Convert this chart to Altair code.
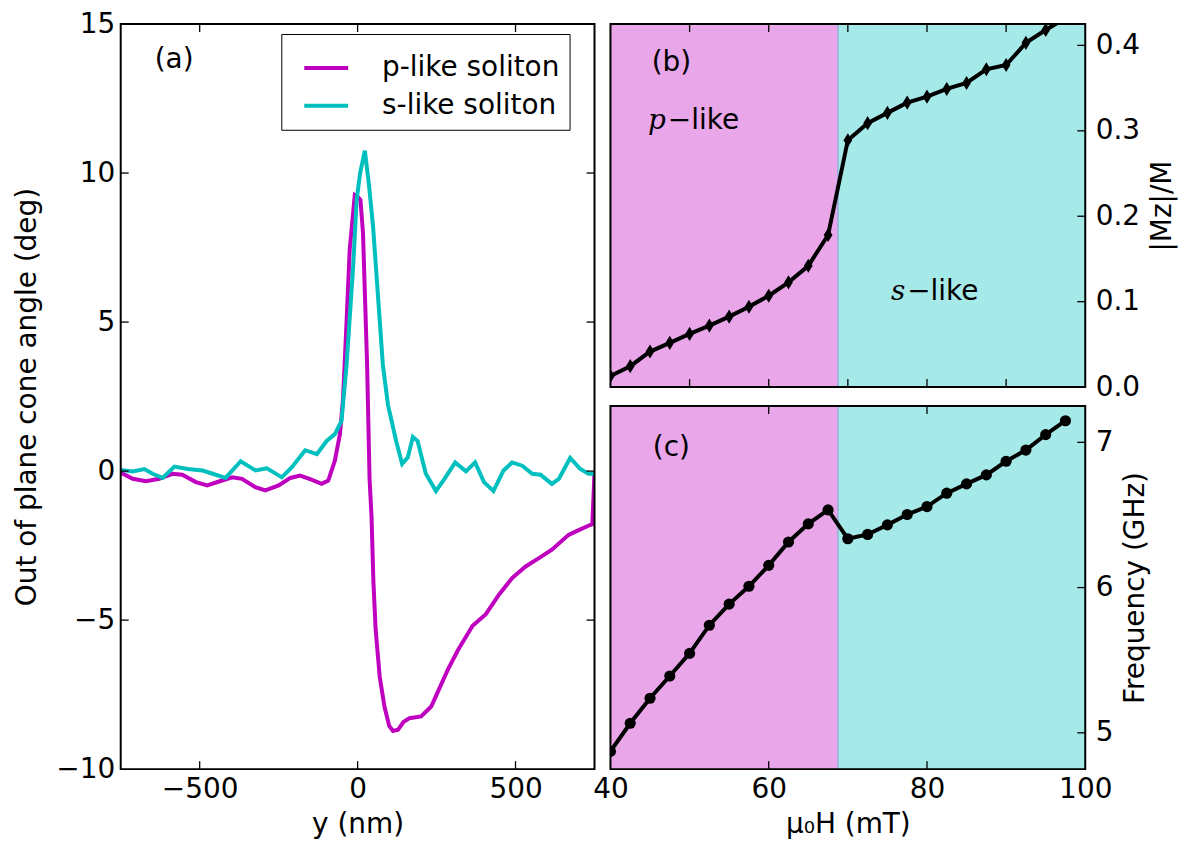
import altair as alt
import pandas as pd

# ---------------- Panel (a): out-of-plane cone angle profiles ----------------
p_y = [-750, -712, -670, -628, -586, -555, -512, -476, -439, -397,
       -366, -324, -292, -250, -213, -182, -146, -114, -93, -72,
       -56, -46, -35, -25, -9, 0, 9, 17, 30, 38,
       44, 50, 57, 70, 85, 100, 112, 128, 145, 164,
       201, 233, 259, 285, 317, 364, 406, 448, 490, 532,
       574, 615, 668, 700, 736, 743, 750]
p_angle = [-0.05, -0.26, -0.34, -0.26, -0.09, -0.12, -0.37, -0.48, -0.35, -0.21,
           -0.26, -0.54, -0.65, -0.48, -0.23, -0.15, -0.29, -0.43, -0.32, 0.35,
           1.24, 2.45, 5.0, 7.43, 9.26, 9.2, 9.1, 8.0, 3.6, -0.3,
           -1.5, -3.7, -5.3, -6.9, -7.9, -8.55, -8.72, -8.68, -8.42, -8.29,
           -8.23, -7.9, -7.29, -6.68, -6.02, -5.19, -4.8, -4.14, -3.58, -3.2,
           -2.92, -2.64, -2.14, -1.98, -1.81, -1.78, -0.05]

s_y = [-750, -712, -675, -649, -617, -580, -538, -491, -459, -418,
       -370, -323, -287, -240, -208, -166, -129, -98, -72, -51,
       -35, -14, -3, 8, 23, 36, 49, 65, 80, 96,
       122, 141, 159, 175, 190, 216, 248, 275, 309, 343,
       372, 400, 430, 462, 489, 521, 553, 579, 615, 637,
       673, 705, 731, 750]
s_angle = [0.04, -0.01, 0.07, -0.09, -0.23, 0.15, 0.07, 0.02, -0.09, -0.23,
           0.33, 0.02, 0.09, -0.21, 0.13, 0.70, 0.57, 1.01, 1.24, 1.68,
           3.56, 6.88, 9.1, 10.0, 10.75, 9.6, 8.2, 5.8, 3.56, 2.23,
           1.01, 0.24, 0.46, 1.15, 1.01, -0.09, -0.67, -0.26, 0.29, -0.01,
           0.29, -0.37, -0.67, 0.02, 0.29, 0.18, -0.09, -0.12, -0.43, -0.26,
           0.44, 0.07, -0.09, -0.09]

series_names = ["p-like soliton", "s-like soliton"]

# ---------------- Panels (b), (c): field sweep ----------------
field_mT = [40, 42.5, 45, 47.5, 50, 52.5, 55, 57.5, 60, 62.5, 65, 67.5,
            70, 72.5, 75, 77.5, 80, 82.5, 85, 87.5, 90, 92.5, 95, 97.5]
mz_ratio = [0.013, 0.0245, 0.0416, 0.0518, 0.0623, 0.072, 0.0825, 0.094,
            0.107, 0.1226, 0.142, 0.178, 0.289, 0.309, 0.321, 0.333,
            0.340, 0.349, 0.356, 0.372, 0.377, 0.403, 0.418, 0.432]
freq_GHz = [4.872, 5.066, 5.238, 5.391, 5.547, 5.741, 5.886, 6.009,
            6.153, 6.314, 6.439, 6.535, 6.336, 6.366, 6.432, 6.503,
            6.558, 6.650, 6.714, 6.776, 6.870, 6.947, 7.053, 7.149]
boundary_mT = 68.75

# axis labels and tick positions
a_xlabels = [-500, 0, 500]
a_ylabels = [-10, -5, 0, 5, 10, 15]
a_xticks = [-500, 0, 500]
a_yticks = [-5, 0, 5, 10]
b_ylabels = [0.0, 0.1, 0.2, 0.3, 0.4]
b_xticks = [50, 60, 70, 80, 90]
b_yticks = [0.1, 0.2, 0.3, 0.4]
c_xlabels = [40, 60, 80, 100]
c_ylabels = [5, 6, 7]
c_xticks = [60, 80]
c_yticks = [5, 6, 7]

# ---------------- styling ----------------
FONT = "DejaVu Sans"
FS = 28
MAG = "#BF00BF"
CYA = "#00BFBF"
SHADE_P = "#E9A6E9"
SHADE_S = "#A6E9E9"
TL = 8  # inward tick length

W_A, H_A = 475, 747
W_R, H_R = 476, 364

# scales
xa = alt.Scale(domain=[-750, 750], nice=False)
ya = alt.Scale(domain=[-10, 15], nice=False)
xs = alt.Scale(domain=[40, 100], nice=False)
yb = alt.Scale(domain=[0, 0.425], nice=False)
yc = alt.Scale(domain=[4.75, 7.25], nice=False)

# axes (the same axis object is given to every layer that uses a scale)
ax_a_x = alt.Axis(values=a_xlabels, title="y (nm)", labelPadding=6, titlePadding=8)
ax_a_y = alt.Axis(values=a_ylabels, title="Out of plane cone angle (deg)",
                  labelPadding=6, titlePadding=14)
ax_b_x = None
ax_b_y = alt.Axis(orient="right", values=b_ylabels, format=".1f", title="|Mz|/M",
                  titleAngle=270, titleBaseline="top", labelPadding=10, titlePadding=9)
ax_c_x = alt.Axis(values=c_xlabels, title="\u03bc\u2080H (mT)", labelPadding=6,
                  titlePadding=8)
ax_c_y = alt.Axis(orient="right", values=c_ylabels, format="d", title="Frequency (GHz)",
                  titleAngle=270, titleBaseline="top", labelPadding=10, titlePadding=9)


def frame(W, H):
    return alt.Chart(pd.DataFrame({"k": [0]})).mark_rect(
        filled=False, stroke="black", strokeWidth=2
    ).encode(x=alt.value(0), x2=alt.value(W), y=alt.value(0), y2=alt.value(H))


def xtick_layers(vals, scale, axis, H):
    d = pd.DataFrame({"t": vals})
    base = alt.Chart(d).mark_rule(color="black", strokeWidth=1.3)
    bot = base.encode(x=alt.X("t:Q", scale=scale, axis=axis),
                      y=alt.value(H), y2=alt.value(H - TL))
    top = base.encode(x=alt.X("t:Q", scale=scale, axis=axis),
                      y=alt.value(0), y2=alt.value(TL))
    return [bot, top]


def ytick_layers(vals, scale, axis, W, left=True, right=True):
    d = pd.DataFrame({"t": vals})
    base = alt.Chart(d).mark_rule(color="black", strokeWidth=1.3)
    out = []
    if left:
        out.append(base.encode(y=alt.Y("t:Q", scale=scale, axis=axis),
                               x=alt.value(0), x2=alt.value(TL)))
    if right:
        out.append(base.encode(y=alt.Y("t:Q", scale=scale, axis=axis),
                               x=alt.value(W), x2=alt.value(W - TL)))
    return out


def label(text, x, y, xscale, yscale, xaxis, yaxis, **kw):
    d = pd.DataFrame({"x": [x], "y": [y], "s": [text]})
    opts = dict(fontSize=FS, font=FONT, color="black", baseline="middle", align="center")
    opts.update(kw)
    return alt.Chart(d).mark_text(**opts).encode(
        x=alt.X("x:Q", scale=xscale, axis=xaxis),
        y=alt.Y("y:Q", scale=yscale, axis=yaxis),
        text="s:N",
    )


# ---------------- Panel (a) ----------------
df_a = pd.concat([
    pd.DataFrame({"y_nm": p_y, "angle": p_angle, "series": series_names[0]}),
    pd.DataFrame({"y_nm": s_y, "angle": s_angle, "series": series_names[1]}),
])

lines_a = alt.Chart(df_a).mark_line(strokeWidth=4, clip=True).encode(
    x=alt.X("y_nm:Q", scale=xa, axis=ax_a_x),
    y=alt.Y("angle:Q", scale=ya, axis=ax_a_y),
    color=alt.Color("series:N",
                    scale=alt.Scale(domain=series_names, range=[MAG, CYA]),
                    legend=alt.Legend(title=None, orient="none", legendX=161, legendY=10,
                                      direction="vertical", symbolType="stroke",
                                      symbolSize=1936, symbolStrokeWidth=4,
                                      labelFontSize=FS, labelFont=FONT, labelColor="black",
                                      labelOffset=32, padding=10, symbolOffset=11,
                                      rowPadding=0, strokeColor="black",
                                      fillColor="white", cornerRadius=0, labelLimit=500)),
)

panel_a = alt.layer(
    lines_a,
    label("(a)", -581, 13.8, xa, ya, ax_a_x, ax_a_y),
    *xtick_layers(a_xticks, xa, ax_a_x, H_A),
    *ytick_layers(a_yticks, ya, ax_a_y, W_A),
    frame(W_A, H_A),
).properties(width=W_A, height=H_A)

# ---------------- Panel (b) ----------------
df_bc = pd.DataFrame({"H": field_mT, "mz": mz_ratio, "f": freq_GHz})

reg_p = pd.DataFrame({"x0": [40], "x1": [boundary_mT]})
reg_s = pd.DataFrame({"x0": [boundary_mT], "x1": [100]})
reg_b = pd.DataFrame({"x0": [boundary_mT]})


def shading(H, xaxis):
    sp = alt.Chart(reg_p).mark_rect(color=SHADE_P).encode(
        x=alt.X("x0:Q", scale=xs, axis=xaxis), x2="x1:Q",
        y=alt.value(0), y2=alt.value(H))
    ss = alt.Chart(reg_s).mark_rect(color=SHADE_S).encode(
        x=alt.X("x0:Q", scale=xs, axis=xaxis), x2="x1:Q",
        y=alt.value(0), y2=alt.value(H))
    bl = alt.Chart(reg_b).mark_rule(color="#8FB0DA", strokeWidth=1.5).encode(
        x=alt.X("x0:Q", scale=xs, axis=xaxis), y=alt.value(0), y2=alt.value(H))
    return [sp, ss, bl]


DIAMOND = "M0,-1L0.62,0L0,1L-0.62,0Z"

b_line = alt.Chart(df_bc).mark_line(color="black", strokeWidth=4, clip=True).encode(
    x=alt.X("H:Q", scale=xs, axis=ax_b_x),
    y=alt.Y("mz:Q", scale=yb, axis=ax_b_y),
)
b_pts = alt.Chart(df_bc).mark_point(shape=DIAMOND, filled=True, color="black",
                                    opacity=1, size=200, clip=True).encode(
    x=alt.X("H:Q", scale=xs, axis=ax_b_x),
    y=alt.Y("mz:Q", scale=yb, axis=ax_b_y),
)

panel_b = alt.layer(
    *shading(H_R, ax_b_x),
    b_line, b_pts,
    label("(b)", 47.7, 0.379, xs, yb, ax_b_x, ax_b_y),
    label("p", 47.25, 0.311, xs, yb, ax_b_x, ax_b_y, font="DejaVu Serif",
          fontStyle="italic", align="right", dx=-2),
    label("\u2212like", 47.25, 0.311, xs, yb, ax_b_x, ax_b_y, align="left"),
    label("s", 77.5, 0.111, xs, yb, ax_b_x, ax_b_y, font="DejaVu Serif",
          fontStyle="italic", align="right", dx=-2),
    label("\u2212like", 77.5, 0.111, xs, yb, ax_b_x, ax_b_y, align="left"),
    *xtick_layers(b_xticks, xs, ax_b_x, H_R),
    *ytick_layers(b_yticks, yb, ax_b_y, W_R, left=False),
    frame(W_R, H_R),
).properties(width=W_R, height=H_R)

# ---------------- Panel (c) ----------------
c_line = alt.Chart(df_bc).mark_line(color="black", strokeWidth=4, clip=True).encode(
    x=alt.X("H:Q", scale=xs, axis=ax_c_x),
    y=alt.Y("f:Q", scale=yc, axis=ax_c_y),
)
c_pts = alt.Chart(df_bc).mark_point(shape="circle", filled=True, color="black",
                                    opacity=1, size=125, clip=True).encode(
    x=alt.X("H:Q", scale=xs, axis=ax_c_x),
    y=alt.Y("f:Q", scale=yc, axis=ax_c_y),
)

panel_c = alt.layer(
    *shading(H_R, ax_c_x),
    c_line, c_pts,
    label("(c)", 47.7, 6.96, xs, yc, ax_c_x, ax_c_y),
    *xtick_layers(c_xticks, xs, ax_c_x, H_R),
    *ytick_layers(c_yticks, yc, ax_c_y, W_R, left=False),
    frame(W_R, H_R),
).properties(width=W_R, height=H_R)

right = alt.vconcat(panel_b, panel_c, spacing=19, bounds="flush")

chart = alt.hconcat(panel_a, right, spacing=16, bounds="flush").properties(
    padding={"left": 5, "top": 1, "right": 5, "bottom": 5}
).configure(
    font=FONT
).configure_axis(
    labelFont=FONT, titleFont=FONT, labelFontSize=FS, titleFontSize=FS,
    titleFontWeight="normal", labelColor="black", titleColor="black",
    ticks=False, domain=False, grid=False, labelFlush=False, labelOverlap=False,
).configure_view(
    stroke=None
)

chart.save("out.html", embed_options={"renderer": "svg", "actions": False})
